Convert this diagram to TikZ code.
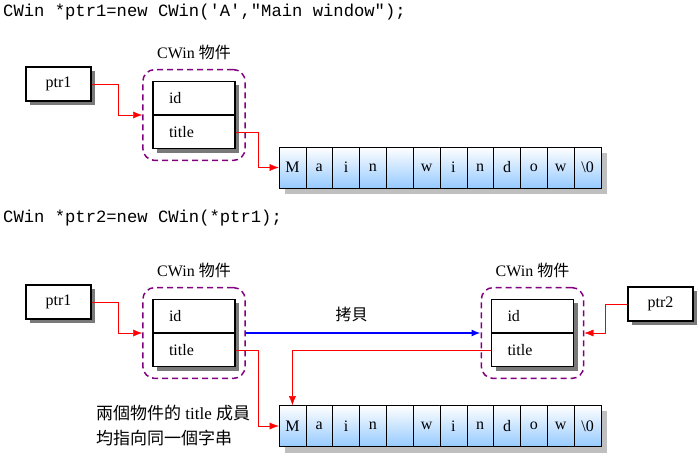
\documentclass[tikz,border=0pt]{standalone}
\usepackage{fontspec}
\setmainfont{Liberation Serif}
\setmonofont{Liberation Mono}
\newfontfamily\cjk{Noto Sans CJK TC}
\usetikzlibrary{positioning}
\usetikzlibrary{fit}
\usetikzlibrary{shadows}
\usetikzlibrary{arrows.meta}
\definecolor{cellblue}{RGB}{150,202,255}
\definecolor{framepurple}{RGB}{128,0,128}
\tikzset{%
    boxshadow/.style={drop shadow={shadow xshift=4pt,shadow yshift=-4pt,fill=gray!95!black,opacity=1}},
    ptrbox/.style={draw,line width=1.4pt,fill=white,minimum width=65pt,minimum height=34pt,font=\fontsize{16}{18}\selectfont,boxshadow},
    member/.style={draw,line width=1.4pt,fill=white,minimum width=82pt,minimum height=33.5pt,inner xsep=16pt,text width=50pt,align=left,font=\fontsize{16}{18}\selectfont,boxshadow},
    objframe/.style={draw=framepurple,line width=1.5pt,dash pattern=on 6pt off 4pt,rounded corners=12pt,inner xsep=9.5pt,inner ysep=11pt},
    objlabel/.style={font=\fontsize{16}{18}\selectfont},
    strcell/.style={draw,semithick,top color=white,bottom color=cellblue,minimum width=26.83pt,minimum height=41pt,inner sep=0pt,font=\fontsize{16}{18}\selectfont},
    ptrarrow/.style={red,thin,-{Latex[length=9pt,width=7pt]}},
    copyarrow/.style={blue,line width=1.5pt,-{Latex[length=9pt,width=7pt]}},
    code/.style={anchor=west,inner sep=0pt,font=\ttfamily\fontsize{17.2}{20}\selectfont},
}

\begin{document}
\begin{tikzpicture}[x=1pt,y=-1pt]
    \useasboundingbox (0,0) rectangle (700,457);

    % ptr1 = new CWin
    \node[code] (codeA) at (3,12) {CWin *ptr1=new CWin('A',"Main window");};
    \node[ptrbox] (ptrA) at (58.5,84) {ptr1};
    \node[member] (idA) at (194,98) {id};
    \node[member] (titleA) at (194,132) {title};
    \node[objframe,fit=(idA)(titleA)] (frameA) {};
    \node[objlabel,above=5pt of frameA] {CWin {\cjk 物件}};
    \fill[lightgray] (285,153) rectangle (607,194);
    \foreach \c [count=\i] in {M,a,i,n,{},w,i,n,d,o,w,\textbackslash 0}
        \node[strcell] (arrA-\i) at ({279+26.83*(\i-0.5)},167.5) {\c};
    \draw[ptrarrow] (ptrA.east) -- ++(26,0) |- (frameA.west);
    \draw[ptrarrow] (titleA.east) -- ++(22,0) |- (arrA-1.west);

    % ptr2 = new CWin(*ptr1)
    \node[code] (codeB) at (3,218) {CWin *ptr2=new CWin(*ptr1);};
    \node[ptrbox] (ptrB) at (58.5,302) {ptr1};
    \node[member] (idB) at (194,316) {id};
    \node[member] (titleB) at (194,350) {title};
    \node[objframe,fit=(idB)(titleB)] (frameB) {};
    \node[objlabel,above=5pt of frameB] {CWin {\cjk 物件}};

    \node[member] (idC) at (532.5,316) {id};
    \node[member] (titleC) at (532.5,350) {title};
    \node[objframe,fit=(idC)(titleC)] (frameC) {};
    \node[objlabel,above=5pt of frameC] {CWin {\cjk 物件}};
    \node[ptrbox] (ptrC) at (660.5,304) {ptr2};

    \fill[lightgray] (285,411) rectangle (607,453);
    \foreach \c [count=\i] in {M,a,i,n,{},w,i,n,d,o,w,\textbackslash 0}
        \node[strcell] (arrB-\i) at ({279+26.83*(\i-0.5)},426) {\c};

    \draw[ptrarrow] (ptrB.east) -- ++(26,0) |- (frameB.west);
    \draw[copyarrow] (frameB.east) -- (frameC.west) node[pos=0.45,above=7pt,text=black,font=\cjk\fontsize{16}{18}\selectfont] {拷貝};
    \draw[ptrarrow] (ptrC.west) -- ++(-22,0) |- (frameC.east);
    \draw[ptrarrow] (titleB.east) -- ++(22,0) |- (arrB-1.west);
    \draw[ptrarrow] (titleC.west) -| (arrB-1.north);

    \node[anchor=north west,align=left,inner sep=0pt,font=\fontsize{17}{25}\selectfont] (note) at (96,405)
        {{\cjk 兩個物件的} title {\cjk 成員}\\{\cjk 均指向同一個字串}};
\end{tikzpicture}
\end{document}
